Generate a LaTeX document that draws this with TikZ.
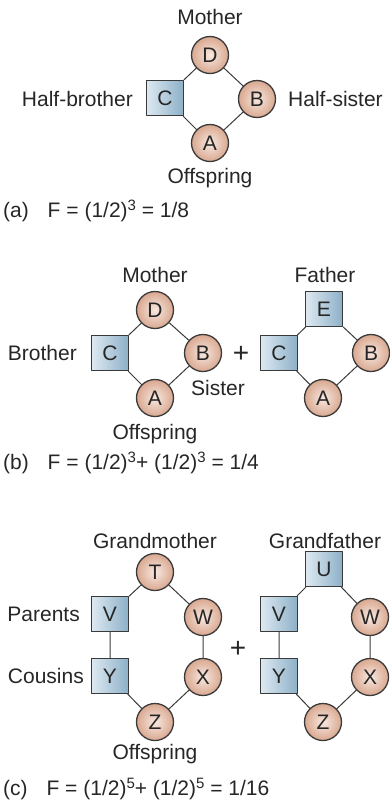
\documentclass[tikz,border=0pt]{standalone}
\usepackage{fontspec}
\setmainfont{Liberation Sans}
\definecolor{edge}{HTML}{3A3A3A}
\definecolor{femlight}{HTML}{F8E8E0}
\definecolor{femdark}{HTML}{D9A890}
\definecolor{malelight}{HTML}{DDE9F1}
\definecolor{maledark}{HTML}{8DB0C8}
\newcommand{\pw}[1]{\raisebox{0.3em}{\fontsize{15}{15}\selectfont #1}}
\tikzset{
  female/.style={circle,draw=edge,line width=1.3pt,inner sep=0pt,minimum size=37pt,
    inner color=femlight,outer color=femdark},
  male/.style={rectangle,draw=edge,line width=1.3pt,inner sep=0pt,minimum width=37pt,
    minimum height=35pt,left color=malelight,right color=maledark},
  tag/.style={inner sep=0pt},
  plus/.style={inner sep=0pt,font=\fontsize{28}{28}\selectfont},
  link/.style={draw=edge,line width=1pt}
}

\begin{document}
\begin{tikzpicture}[x=1pt,y=-1pt,line cap=round,line join=round,
    font=\fontsize{21}{24}\selectfont,text=black!85]
  \useasboundingbox (0,0) rectangle (390,806);
  % (a) half sibs
  \node[female] (aD) at (210,55) {D};
  \node[male] (aC) at (165,98) {C};
  \node[female] (aB) at (257,99) {B};
  \node[female] (aA) at (210,143) {A};
  \draw[link] (aC) -- (aD) (aD) -- (aB) (aC) -- (aA) (aB) -- (aA);
  \node[tag] (aMother) at (210,17) {Mother};
  \node[tag] (aOff) at (210,178) {Offspring};
  \node[tag,anchor=east] (aHB) at (133,99) {Half-brother};
  \node[tag,anchor=west] (aHS) at (288,99) {Half-sister};
  \node[tag,anchor=west] (aF) at (3,211) {(a)\hspace{0.9em}F = (1/2)\pw{3} = 1/8};

  % (b) full sibs
  \node[female] (bD) at (155,310) {D};
  \node[male] (bC) at (110,353) {C};
  \node[female] (bB) at (203,353) {B};
  \node[female] (bA) at (155,398) {A};
  \draw[link] (bC) -- (bD) (bD) -- (bB) (bC) -- (bA) (bB) -- (bA);
  \node[male] (bE) at (324,309) {E};
  \node[male] (bC2) at (279,353) {C};
  \node[female] (bB2) at (371,353) {B};
  \node[female] (bA2) at (323,398) {A};
  \draw[link] (bC2) -- (bE) (bE) -- (bB2) (bC2) -- (bA2) (bB2) -- (bA2);
  \node[plus] (bPlus) at (241,354) {+};
  \node[tag] (bMother) at (155,275) {Mother};
  \node[tag] (bFather) at (325,275) {Father};
  \node[tag] (bOff) at (155,434) {Offspring};
  \node[tag,anchor=east] (bBro) at (77,353) {Brother};
  \node[tag,anchor=west] (bSis) at (191,388) {Sister};
  \node[tag,anchor=west] (bF) at (3,463) {(b)\hspace{0.9em}F = (1/2)\pw{3}+ (1/2)\pw{3} = 1/4};

  % (c) first cousins
  \node[female] (cT) at (155,572) {T};
  \node[male] (cV) at (110,614) {V};
  \node[female] (cW) at (203,617) {W};
  \node[male] (cY) at (110,676) {Y};
  \node[female] (cX) at (203,677) {X};
  \node[female] (cZ) at (155,722) {Z};
  \draw[link] (cV) -- (cT) (cT) -- (cW) (cV) -- (cY) (cW) -- (cX) (cY) -- (cZ) (cX) -- (cZ);
  \node[male] (cU) at (324,569) {U};
  \node[male] (cV2) at (279,614) {V};
  \node[female] (cW2) at (370,617) {W};
  \node[male] (cY2) at (279,676) {Y};
  \node[female] (cX2) at (370,677) {X};
  \node[female] (cZ2) at (323,722) {Z};
  \draw[link] (cV2) -- (cU) (cU) -- (cW2) (cV2) -- (cY2) (cW2) -- (cX2) (cY2) -- (cZ2) (cX2) -- (cZ2);
  \node[plus] (cPlus) at (238,649) {+};
  \node[tag] (cGM) at (155,541) {Grandmother};
  \node[tag] (cGF) at (325,541) {Grandfather};
  \node[tag] (cOff) at (155,754) {Offspring};
  \node[tag,anchor=east] (cPar) at (80,614) {Parents};
  \node[tag,anchor=east] (cCou) at (84,676) {Cousins};
  \node[tag,anchor=west] (cF) at (3,789) {(c)\hspace{0.9em}F = (1/2)\pw{5}+ (1/2)\pw{5} = 1/16};
\end{tikzpicture}
\end{document}
